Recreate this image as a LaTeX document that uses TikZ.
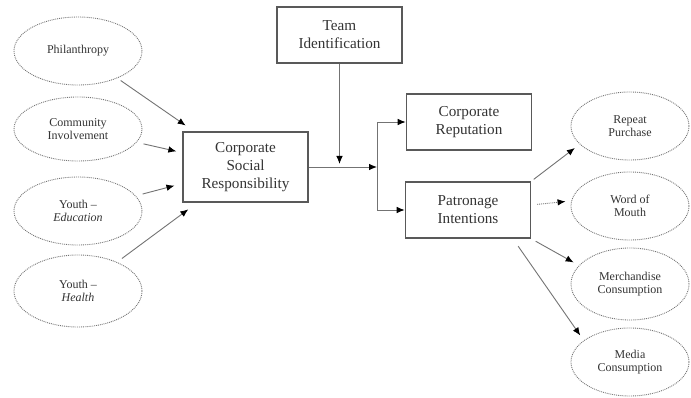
\documentclass[tikz,border=0pt]{standalone}
\usepackage{fontspec}
\setmainfont{Liberation Serif}
\usepackage{tikz}
\usetikzlibrary{arrows.meta, positioning, shapes, calc}

\tikzset{
  factor/.style={ellipse, draw=black!55, densely dotted, line width=0.9pt, text=black!80,
    minimum width=128pt, minimum height=68pt, inner sep=0pt, align=center,
    font=\fontsize{12}{13.5}\selectfont},
  outcome/.style={factor, minimum width=118pt},
  construct/.style={rectangle, draw=black!65, line width=1.6pt, text=black!80,
    minimum width=125pt, minimum height=56pt, inner sep=2pt, align=center,
    font=\fontsize{15.2}{18}\selectfont},
  arr/.style={draw=black!55, line width=0.9pt, -{Latex[length=8pt,width=6.5pt,color=black]}},
}

\begin{document}
\begin{tikzpicture}[x=1pt,y=-1pt]
  \useasboundingbox (0,0) rectangle (691,398);

  % antecedents of CSR
  \node[factor] (phil) at (78,51) {Philanthropy};
  \node[factor, minimum height=64pt] (comm) at (78,129) {Community\\Involvement};
  \node[factor] (yedu) at (78,211) {Youth --\\\textit{Education}};
  \node[factor, minimum height=72pt] (yhea) at (78,291) {Youth --\\\textit{Health}};

  % central constructs
  \node[construct, minimum height=70pt] (csr) at (245.5,167) {Corporate\\Social\\Responsibility};
  \node[construct] (team) at (339.5,35) {Team\\Identification};
  \node[construct] (rep) at (469,122) {Corporate\\Reputation};
  \node[construct] (pat) at (468,210) {Patronage\\Intentions};

  % outcomes of patronage
  \node[outcome] (rpur) at (630,126) {Repeat\\Purchase};
  \node[outcome] (wom) at (630,206) {Word of\\Mouth};
  \node[outcome, minimum height=72pt] (merc) at (630,284) {Merchandise\\Consumption};
  \node[outcome] (medi) at (630,362) {Media\\Consumption};

  \coordinate (split) at (377,167);
  \coordinate (join) at (339.5,167);

  \draw[arr, shorten <=4pt, shorten >=10pt] (phil) -- (csr);
  \draw[arr, shorten <=7pt, shorten >=6pt] (comm) -- (csr);
  \draw[arr, shorten <=7pt, shorten >=8pt] (yedu) -- (csr);
  \draw[arr, shorten <=6pt, shorten >=11pt] (yhea) -- (csr);

  \draw[arr] (csr.east) -- (split);
  \draw[arr, shorten >=3pt] (team.south) -- (join);
  \draw[arr] (split) |- (rep.west);
  \draw[arr] (split) |- (pat.west);

  \draw[arr, shorten <=3pt, shorten >=6pt] (pat.north east) -- (rpur.200);
  \draw[arr, densely dotted, shorten <=6pt, shorten >=5pt] ([yshift=5pt]pat.east) -- ([yshift=5pt]wom.west);
  \draw[arr, shorten <=5pt, shorten >=6pt] (pat.south east) -- (merc.160);
  \draw[arr, shorten <=9pt, shorten >=6pt] ([xshift=45pt]pat.south) -- (medi.155);
\end{tikzpicture}
\end{document}
